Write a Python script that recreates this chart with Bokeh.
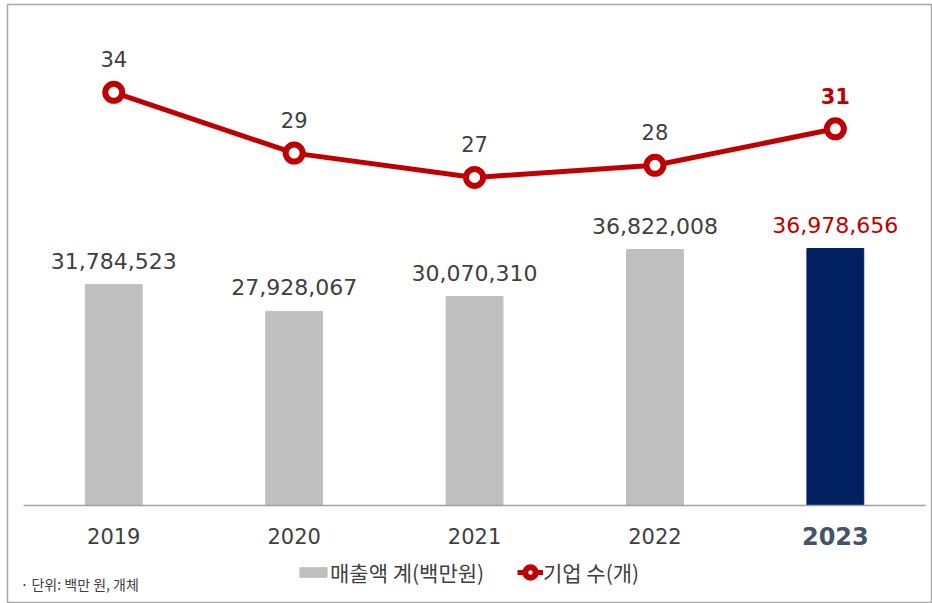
from bokeh.plotting import figure
from bokeh.models import ColumnDataSource, Range1d, Legend, LegendItem, Label
from bokeh.core.properties import value
from bokeh.embed import file_html
from bokeh.resources import INLINE

# ---- data ----
years = ["2019", "2020", "2021", "2022", "2023"]
sales = [31784523, 27928067, 30070310, 36822008, 36978656]   # 매출액 계(백만원)
companies = [34, 29, 27, 28, 31]                                # 기업 수(개)
sales_labels = ["31,784,523", "27,928,067", "30,070,310", "36,822,008", "36,978,656"]
highlight = "2023"

GRAY = "#BFBFBF"
NAVY = "#002060"
RED = "#C00000"
TXT = "#404040"
SLATE = "#44546A"

xs = list(range(len(years)))
is_hl = [y == highlight for y in years]

src = ColumnDataSource(dict(
    x=xs,
    year=years,
    sales=sales,
    cnt=companies,
    zero=[0] * len(years),
    sales_lbl=sales_labels,
    cnt_lbl=[str(c) for c in companies],
    bar_color=[NAVY if h else GRAY for h in is_hl],
    sales_lbl_color=[RED if h else TXT for h in is_hl],
    cnt_lbl_color=[RED if h else TXT for h in is_hl],
    cnt_lbl_style=["bold" if h else "normal" for h in is_hl],
    year_color=[SLATE if h else TXT for h in is_hl],
    year_style=["bold" if h else "normal" for h in is_hl],
    year_size=["24px" if h else "21px" for h in is_hl],
))

W, H = 932, 603
p = figure(width=W, height=H, output_backend="svg", toolbar_location=None,
           x_range=Range1d(-0.589, 4.533),
           y_range=Range1d(-13960000, 72090000),
           x_axis_type=None, y_axis_type=None,
           min_border_left=7, min_border_right=1,
           min_border_top=4, min_border_bottom=1)
p.extra_y_ranges = {"cnt": Range1d(-7.98, 41.23)}
p.xgrid.visible = False
p.ygrid.visible = False
p.outline_line_color = "#A6A6A6"
p.outline_line_width = 1.5
p.background_fill_color = "white"
p.border_fill_color = "white"

# bars
bars = p.vbar(x="x", top="sales", width=0.315, color="bar_color", source=src)

# baseline
p.segment(x0=[xs[0] - 0.5], x1=[xs[-1] + 0.5], y0=[0], y1=[0],
          line_color="#A0A0A0", line_width=1.5)

# sales labels
p.text(x="x", y="sales", text="sales_lbl", source=src, text_align="center",
       text_baseline="middle", y_offset=-24, text_font=value("DejaVu Sans"),
       text_font_size="22px", text_color="sales_lbl_color")

# line + markers
ln = p.line(x="x", y="cnt", source=src, y_range_name="cnt",
            line_color=RED, line_width=5)
mk = p.scatter(x="x", y="cnt", source=src, y_range_name="cnt", marker="circle",
               size=17, line_width=6, line_color=RED, fill_color="white")

p.text(x="x", y="cnt", text="cnt_lbl", source=src, y_range_name="cnt",
       text_align="center", text_baseline="middle", y_offset=-33,
       text_font=value("DejaVu Sans"), text_font_size="21px",
       text_font_style="cnt_lbl_style", text_color="cnt_lbl_color")

# year labels
p.text(x="x", y="zero", text="year", source=src, text_align="center",
       text_baseline="middle", y_offset=31, text_font=value("DejaVu Sans"),
       text_font_size="year_size", text_font_style="year_style",
       text_color="year_color")

# legends
common = dict(orientation="horizontal", padding=0, margin=0, label_standoff=0,
              border_line_color=None, background_fill_alpha=0,
              label_text_font="Noto Sans CJK KR", label_text_font_size="21px",
              label_text_color=TXT)
leg1 = Legend(items=[LegendItem(label="매출액 계(백만원)", renderers=[bars], index=0)],
              location=(289, 15), glyph_width=34, glyph_height=12, **common)
leg2 = Legend(items=[LegendItem(label="기업 수(개)", renderers=[ln, mk])],
              location=(510, 15), glyph_width=26, glyph_height=26, **common)
p.add_layout(leg1, "center")
p.add_layout(leg2, "center")

note = Label(x=13, y=19, x_units="screen", y_units="screen",
             text="· 단위: 백만 원, 개체", text_font="Noto Sans CJK KR",
             text_font_size="14px", text_color=TXT, text_baseline="middle")
p.add_layout(note)

open("out.html", "w").write(file_html(p, INLINE))
